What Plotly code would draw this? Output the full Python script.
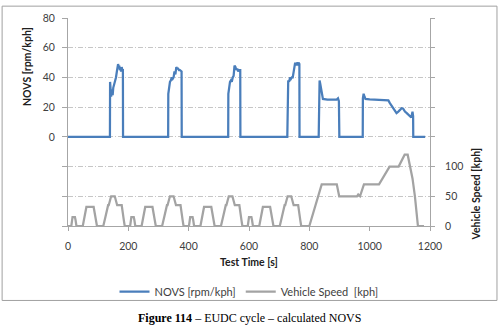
import plotly.graph_objects as go

# Vehicle speed (NEDC: 4 x ECE + EUDC)
speed_time = [
    0, 11, 15, 23, 25, 28, 49, 54, 56, 61, 85, 93, 96, 117, 122, 124, 133, 135, 143, 155, 163, 176, 178, 185, 188,
    195, 206, 210, 218, 220, 223, 244, 249, 251, 256, 280, 288, 291, 312, 317, 319, 328, 330, 338, 350, 358, 371, 373, 380, 383,
    390, 401, 405, 413, 415, 418, 439, 444, 446, 451, 475, 483, 486, 507, 512, 514, 523, 525, 533, 545, 553, 566, 568, 575, 578,
    585, 596, 600, 608, 610, 613, 634, 639, 641, 646, 670, 678, 681, 702, 707, 709, 718, 720, 728, 740, 748, 761, 763, 770, 773,
    800, 841, 891, 899, 958, 962, 968, 981, 1031, 1066, 1096, 1116, 1126, 1142, 1150, 1160, 1180,
]
speed_kph = [
    0, 0, 15, 15, 10, 0, 0, 15, 15, 32, 32, 10, 0, 0, 15, 15, 35, 35, 50, 50, 35, 35, 35, 10, 0,
    0, 0, 15, 15, 10, 0, 0, 15, 15, 32, 32, 10, 0, 0, 15, 15, 35, 35, 50, 50, 35, 35, 35, 10, 0,
    0, 0, 15, 15, 10, 0, 0, 15, 15, 32, 32, 10, 0, 0, 15, 15, 35, 35, 50, 50, 35, 35, 35, 10, 0,
    0, 0, 15, 15, 10, 0, 0, 15, 15, 32, 32, 10, 0, 0, 15, 15, 35, 35, 50, 50, 35, 35, 35, 10, 0,
    0, 70, 70, 50, 50, 53, 50, 70, 70, 100, 100, 120, 120, 80, 50, 0, 0,
]

# NOVS (rpm/kph)
novs_time = [
    0, 139, 139.5, 141, 143, 145, 148, 150, 153, 156, 159, 162, 164, 166, 168, 170, 172, 174, 176, 178, 180, 182, 182.5,
    332, 332.5, 335, 338, 341, 344, 347, 350, 353, 356, 359, 362, 365, 368, 371, 374, 376.5, 377,
    531, 531.5, 534, 537, 540, 543, 546, 549, 552, 555, 558, 561, 564, 567, 571, 571.5,
    727, 727.5, 730, 733, 736, 739, 742, 745, 748, 750, 753, 756, 759, 762, 765, 767, 767.5,
    831, 831.5, 834, 836, 838, 840, 842, 845, 860, 875, 890, 895, 898, 899.5,
    977, 977.5, 980, 983, 986, 1000, 1020, 1040, 1055, 1062, 1067, 1072, 1078, 1084, 1089, 1095, 1100, 1106,
    1111, 1117, 1123, 1128, 1134, 1138, 1142, 1144, 1144.5, 1184,
]
novs_value = [
    0, 0, 37, 29, 27, 32, 28, 33, 35, 38, 40, 44, 48, 49, 47, 48, 45, 46, 44, 47, 45, 45, 0,
    0, 29, 33, 37, 38, 40, 39, 40, 44, 42, 47, 46, 46, 45, 45, 44, 44, 0,
    0, 29, 35, 37, 38, 37, 40, 41, 48, 47, 45, 46, 44, 45, 45, 0,
    0, 34, 38, 37, 40, 39, 40, 40, 44, 49, 50, 48, 50, 49, 50, 49, 0,
    0, 30, 38, 36, 33, 30, 28, 25.5, 25, 25, 25, 26, 24, 0,
    0, 26, 29, 27, 25.5, 25.2, 25, 25, 24.5, 24.5, 22.7, 21, 19, 17.5, 16, 17, 18.2, 19.3,
    19, 17, 16, 15, 13.8, 13, 17, 14, 0, 0,
]

left_ticks = [-60, -40, -20, 0, 20, 40, 60, 80]
left_labels = ["", "", "", "0", "20", "40", "60", "80"]
right_ticks = [0, 50, 100, 150, 200, 250, 300, 350]
right_labels = ["0", "50", "100", "", "", "", "", ""]
x_ticks = [0, 200, 400, 600, 800, 1000, 1200]

BLUE = "#4A7EBB"
GRAY = "#A3A3A3"
AXIS = "#A6A6A6"
GRID = "#C6C6C6"
TXT = "#404040"
FONT = "Lato"

fig = go.Figure()
fig.add_trace(go.Scatter(x=novs_time, y=novs_value, mode="lines", name="NOVS [rpm/kph]",
                         line=dict(color=BLUE, width=2.25), yaxis="y"))
fig.add_trace(go.Scatter(x=speed_time, y=speed_kph, mode="lines", name="Vehicle Speed  [kph]",
                         line=dict(color=GRAY, width=2.25), yaxis="y2"))

fig.update_layout(
    width=500, height=333, autosize=False,
    margin=dict(l=68, r=70, t=14, b=107),
    paper_bgcolor="white", plot_bgcolor="white",
    font=dict(family=FONT, size=10, color=TXT),
    showlegend=True,
    legend=dict(orientation="h", x=0.5, xanchor="center", y=-0.316, yanchor="middle",
                font=dict(family=FONT, size=11, color=TXT), bgcolor="rgba(0,0,0,0)",
                itemwidth=30, tracegroupgap=0),
    xaxis=dict(range=[0, 1200], tickvals=x_ticks, showgrid=False, zeroline=False,
               showline=True, linecolor=AXIS, linewidth=1, ticks="outside", ticklen=4,
               tickcolor=AXIS, tickfont=dict(family=FONT, size=10.5, color=TXT),
               ticklabelstandoff=6),
    yaxis=dict(range=[-60, 80], tickvals=left_ticks, ticktext=left_labels, showgrid=True,
               gridcolor=GRID, griddash="5px,2px,1px,2px", gridwidth=1, zeroline=False,
               showline=True, linecolor=AXIS, linewidth=1, ticks="outside", ticklen=5,
               tickcolor=AXIS, tickfont=dict(family=FONT, size=10.5, color=TXT),
               ticklabelstandoff=5),
    yaxis2=dict(range=[0, 350], tickvals=right_ticks, ticktext=right_labels, overlaying="y",
                side="right", showgrid=False, zeroline=False, showline=True, linecolor=AXIS,
                linewidth=1, ticks="outside", ticklen=4, tickcolor=AXIS,
                tickfont=dict(family=FONT, size=10.5, color=TXT), ticklabelstandoff=8),
)

fig.add_annotation(text="<b>Test Time [s]</b>", xref="paper", yref="paper", x=0.5, y=-0.1745,
                   showarrow=False, font=dict(family=FONT, size=10.5, color="#202020"),
                   xanchor="center", yanchor="middle")
fig.add_annotation(text="<b>NOVS [rpm/kph]</b>", xref="paper", yref="paper", x=-0.1133, y=0.769,
                   showarrow=False, textangle=-90, font=dict(family=FONT, size=10.5, color="#202020"),
                   xanchor="center", yanchor="middle")
fig.add_annotation(text="<b>Vehicle Speed [kph]</b>", xref="paper", yref="paper", x=1.127, y=0.156,
                   showarrow=False, textangle=-90, font=dict(family=FONT, size=10.5, color="#202020"),
                   xanchor="center", yanchor="middle")
fig.add_annotation(text="<b>Figure 114</b> – EUDC cycle – calculated NOVS", xref="paper", yref="paper",
                   x=0.5, y=-0.443, showarrow=False,
                   font=dict(family="Liberation Serif", size=12, color="black"),
                   xanchor="center", yanchor="middle")

fig.add_shape(type="rect", xref="paper", yref="paper", x0=-0.182, x1=1.185, y0=-0.358, y1=1.057,
              line=dict(color="#A0A0A0", width=1), fillcolor="rgba(0,0,0,0)", layer="below")

fig.write_html("out.html")
